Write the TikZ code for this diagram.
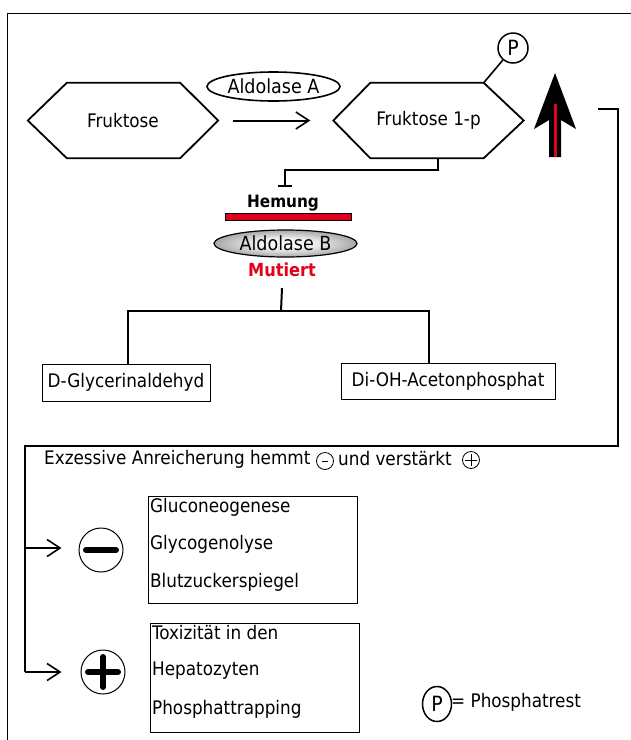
\documentclass[tikz,border=0pt]{standalone}
\usepackage{fontspec}
\setmainfont{DejaVu Sans Condensed}
\usetikzlibrary{arrows.meta,shapes.geometric,calc}
\definecolor{rd}{RGB}{226,0,26}
\pgfdeclareradialshading{aldshade}{\pgfpoint{0bp}{0bp}}{color(0bp)=(white); color(10bp)=(white!94!black); color(28bp)=(black!40); color(42bp)=(black!80); color(50bp)=(black)}
\begin{document}
\begin{tikzpicture}[x=1pt,y=-1pt,
  font=\fontsize{18.7}{22}\selectfont,
  hexa/.style={draw=none,minimum width=190pt,minimum height=75pt,inner sep=0pt},
  hexline/.style={line width=1.8pt,line join=miter},
  conn/.style={line width=2pt},
  oarrow/.style={-{Straight Barb[length=13pt,width=17pt,line width=1.6pt]}},
  box/.style={draw,line width=1pt,inner sep=0pt},
  txt/.style={inner sep=1pt},
  ald/.style={font=\fontsize{19.5}{22}\selectfont}]
\useasboundingbox (0,0) rectangle (631,740);
% frame
\draw[line width=1pt] (7,740) -- (7,13) -- (631,13);

% Fruktose
\node[hexa] (fr) at (123,120.5) {Fruktose};
\draw[hexline] (fr.west) -- ([xshift=39pt]fr.north west) -- ([xshift=-38pt]fr.north east) -- (fr.east)
  -- ([xshift=-38pt]fr.south east) -- ([xshift=39pt]fr.south west) -- cycle;

% Fruktose 1-p
\node[hexa] (f1) at (428.5,120.5) {Fruktose 1-p};
\draw[hexline] (f1.west) -- ([xshift=37pt]f1.north west) -- ([xshift=-40pt]f1.north east) -- (f1.east)
  -- ([xshift=-40pt]f1.south east) -- ([xshift=37pt]f1.south west) -- cycle;
\coordinate (f1tr) at ([xshift=-40pt]f1.north east);

% arrow
\draw[conn,oarrow] ([xshift=15pt]fr.east) -- ([xshift=-23pt]f1.west);

% Aldolase A
\node[ellipse,draw,line width=1.6pt,minimum width=133pt,minimum height=29pt,inner sep=0pt,ald] (alA) at (273.5,86.5) {Aldolase A};

% P circle
\node[circle,draw,line width=1.5pt,minimum size=30pt,inner sep=0pt,font=\fontsize{21}{22}\selectfont] (p) at (513,48) {P};
\draw[line width=1.6pt] (f1tr) -- (p);

% big arrow
\fill[black] (555,73) -- (576,129) -- (561,120) -- (561,157) -- (549,157) -- (549,120) -- (534,129) -- cycle;
\draw[rd,line width=3pt] (555,104) -- (555,157);

% inhibition
\coordinate (heT) at (285,187);
\draw[conn,-{Bar[width=14pt,line width=2pt]}] ([xshift=9.5pt]f1.south) -- ++(0,12) -| (heT);
\node[txt,font=\fontsize{17}{20}\selectfont\bfseries] (hem) at (283,203) {Hemung};
\node[draw=black,fill=rd,line width=0.5pt,minimum width=126pt,minimum height=7pt,inner sep=0pt] (bar) at (288,217) {};
\node[ellipse,draw,line width=1.2pt,shading=aldshade,minimum width=143pt,minimum height=27pt,inner sep=0pt,ald] (alB) at (285.5,243.5) {Aldolase B};
\node[txt,text=rd,font=\fontsize{18}{20}\selectfont\bfseries] (mut) at (282,270) {Mutiert};

% branch
\node[box,minimum width=168pt,minimum height=37pt] (dg) at (126,382.5) {D-Glycerinaldehyd};
\node[box,minimum width=214pt,minimum height=36pt] (di) at (448,381.5) {Di-OH-Acetonphosphat};
\coordinate (br) at (281,311);
\draw[conn] ($(mut.south)+(0,10)$) -- (br);
\draw[conn] ([xshift=2pt]dg.north) |- (br) -| ([xshift=-19pt]di.north);

% long bracket
\coordinate (bk) at (598,109);
\coordinate (a1) at (25,548);
\coordinate (a2) at (25,672);
\draw[conn] (bk) -- (618,109) -- (618,446) -- (25,446) -- (a2);

% heading text
\node[txt,anchor=west,font=\fontsize{18.7}{22}\selectfont] (ex) at (43,459) {Exzessive Anreicherung hemmt};
\node[circle,draw,line width=0.8pt,minimum size=17pt,inner sep=0pt] (mc) at (325,461) {};
\draw[line width=0.8pt] ([xshift=-3pt]mc.center) -- ([xshift=3pt]mc.center);
\node[txt,anchor=west,font=\fontsize{18.7}{22}\selectfont] (uv) at (337,459) {und verstärkt};
\node[circle,draw,line width=0.8pt,minimum size=17pt,inner sep=0pt] (pc) at (471,460) {};
\draw[line width=0.8pt] ([xshift=-6pt]pc.center) -- ([xshift=6pt]pc.center);
\draw[line width=0.8pt] ([yshift=-6pt]pc.center) -- ([yshift=6pt]pc.center);

% minus
\node[circle,draw,line width=1pt,minimum size=44pt,inner sep=0pt] (mn) at (101,550) {};
\draw[line width=6pt,line cap=round] ([xshift=-15pt]mn.center) -- ([xshift=15pt]mn.center);
\draw[conn,oarrow,shorten >=17pt] (a1) -- (mn.west |- a1);

% plus
\node[circle,draw,line width=1pt,minimum size=44pt,inner sep=0pt] (pl) at (103,672) {};
\draw[line width=6pt,line cap=round] ([xshift=-15pt]pl.center) -- ([xshift=15pt]pl.center);
\draw[line width=6pt,line cap=round] ([yshift=-15pt]pl.center) -- ([yshift=15pt]pl.center);
\draw[conn,oarrow,shorten >=19pt] (a2) -- (pl.west |- a2);

% box 1
\node[box,minimum width=209pt,minimum height=107pt] (b1) at (252.5,549.5) {};
\node[txt,anchor=west] (g1) at (149,507) {Gluconeogenese};
\node[txt,anchor=west] (g2) at (149,544) {Glycogenolyse};
\node[txt,anchor=west] (g3) at (149,582) {Blutzuckerspiegel};

% box 2
\node[box,minimum width=209pt,minimum height=109pt] (b2) at (254.5,677.5) {};
\node[txt,anchor=west] (h1) at (151,633) {Toxizität in den};
\node[txt,anchor=west] (h2) at (151,671) {Hepatozyten};
\node[txt,anchor=west] (h3) at (151,709) {Phosphattrapping};

% legend
\node[ellipse,draw,line width=1.5pt,minimum width=29pt,minimum height=35pt,inner sep=0pt,font=\fontsize{21}{22}\selectfont] (pleg) at (437,704) {P};
\node[txt,anchor=west] (plt) at (450,702) {= Phosphatrest};
\end{tikzpicture}
\end{document}
